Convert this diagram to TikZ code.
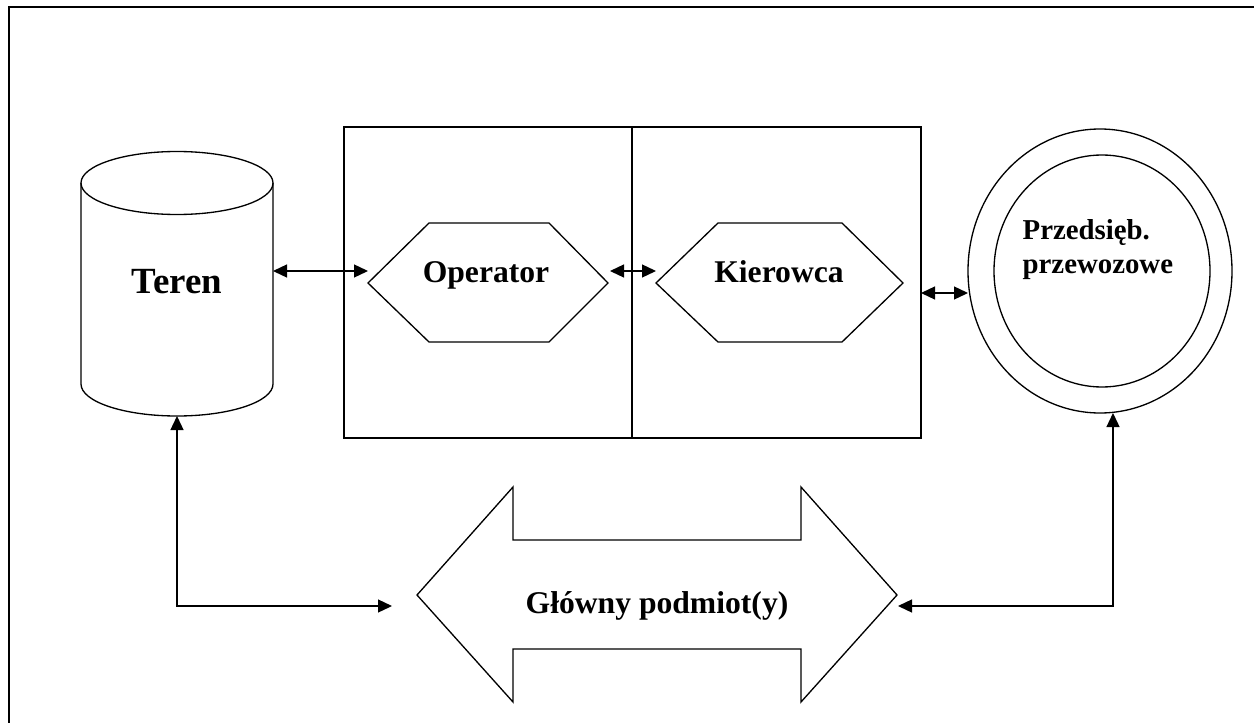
\documentclass[tikz,border=0pt]{standalone}
\usepackage{fontspec}
\setmainfont{Liberation Serif}
\usetikzlibrary{arrows.meta,calc}

\begin{document}
\begin{tikzpicture}[x=0.02cm,y=-0.02cm,line width=0.75pt,
  lbl/.style={inner sep=0pt,anchor=base,font=\bfseries\fontsize{18}{21}\selectfont},
  link/.style={{Triangle[length=0.28cm,width=0.26cm]}-{Triangle[length=0.28cm,width=0.26cm]}}]
\useasboundingbox (0,0) rectangle (1254,723);
\clip (0,0) rectangle (1254,723);
% frame
\draw [line width=1.25pt] (9,760) -- (9,7) -- (1290,7);
% Teren
\draw (81,183) -- (81,384) arc[start angle=180,end angle=0,x radius=96,y radius=32] -- (273,183);
\draw (177,183) ellipse[x radius=96,y radius=31.5];
\node [lbl,font=\bfseries\fontsize{21}{25}\selectfont] (teren) at (177,293) {Teren};
\coordinate (terenE) at (273,271);
\coordinate (terenS) at (177,416);
% box with operator and driver
\draw (344,127) rectangle (921,438);
\draw (632,127) -- (632,438);
\draw (368,283) -- (429,223) -- (549,223) -- (608,283) -- (549,342) -- (429,342) -- cycle;
\draw (656,283) -- (718,223) -- (842,223) -- (903,283) -- (842,342) -- (718,342) -- cycle;
\node [lbl] (op) at (486,282) {Operator};
\node [lbl] (kier) at (779,282) {Kierowca};
\coordinate (opW) at (368,271);
\coordinate (opE) at (610,271);
\coordinate (kierW) at (656,271);
\coordinate (boxE) at (921,293);
% carriers
\draw (1100,271) ellipse[x radius=132,y radius=142];
\draw (1102,271) ellipse[x radius=108,y radius=116];
\node [lbl,font=\bfseries\fontsize{16.4}{18.8}\selectfont,align=left,anchor=base west] (przed) at (1022,273) {Przedsięb.\\przewozowe};
\coordinate (przedW) at (968,293);
\coordinate (przedS) at (1113,413);
% main actor(s)
\draw (417,595) -- (513,487) -- (513,540) -- (801,540) -- (801,487) -- (897,595)
  -- (801,702) -- (801,649) -- (513,649) -- (513,702) -- cycle;
\node [lbl] (glowny) at (657,613) {Główny podmiot(y)};
\coordinate (glownyW) at (392,606);
\coordinate (glownyE) at (898,606);
% links
\draw [link] (terenE) -- (opW);
\draw [link] (opE) -- (kierW);
\draw [link] (boxE) -- (przedW);
\draw [link] (terenS) |- (glownyW);
\draw [link] (przedS) |- (glownyE);
\end{tikzpicture}
\end{document}
